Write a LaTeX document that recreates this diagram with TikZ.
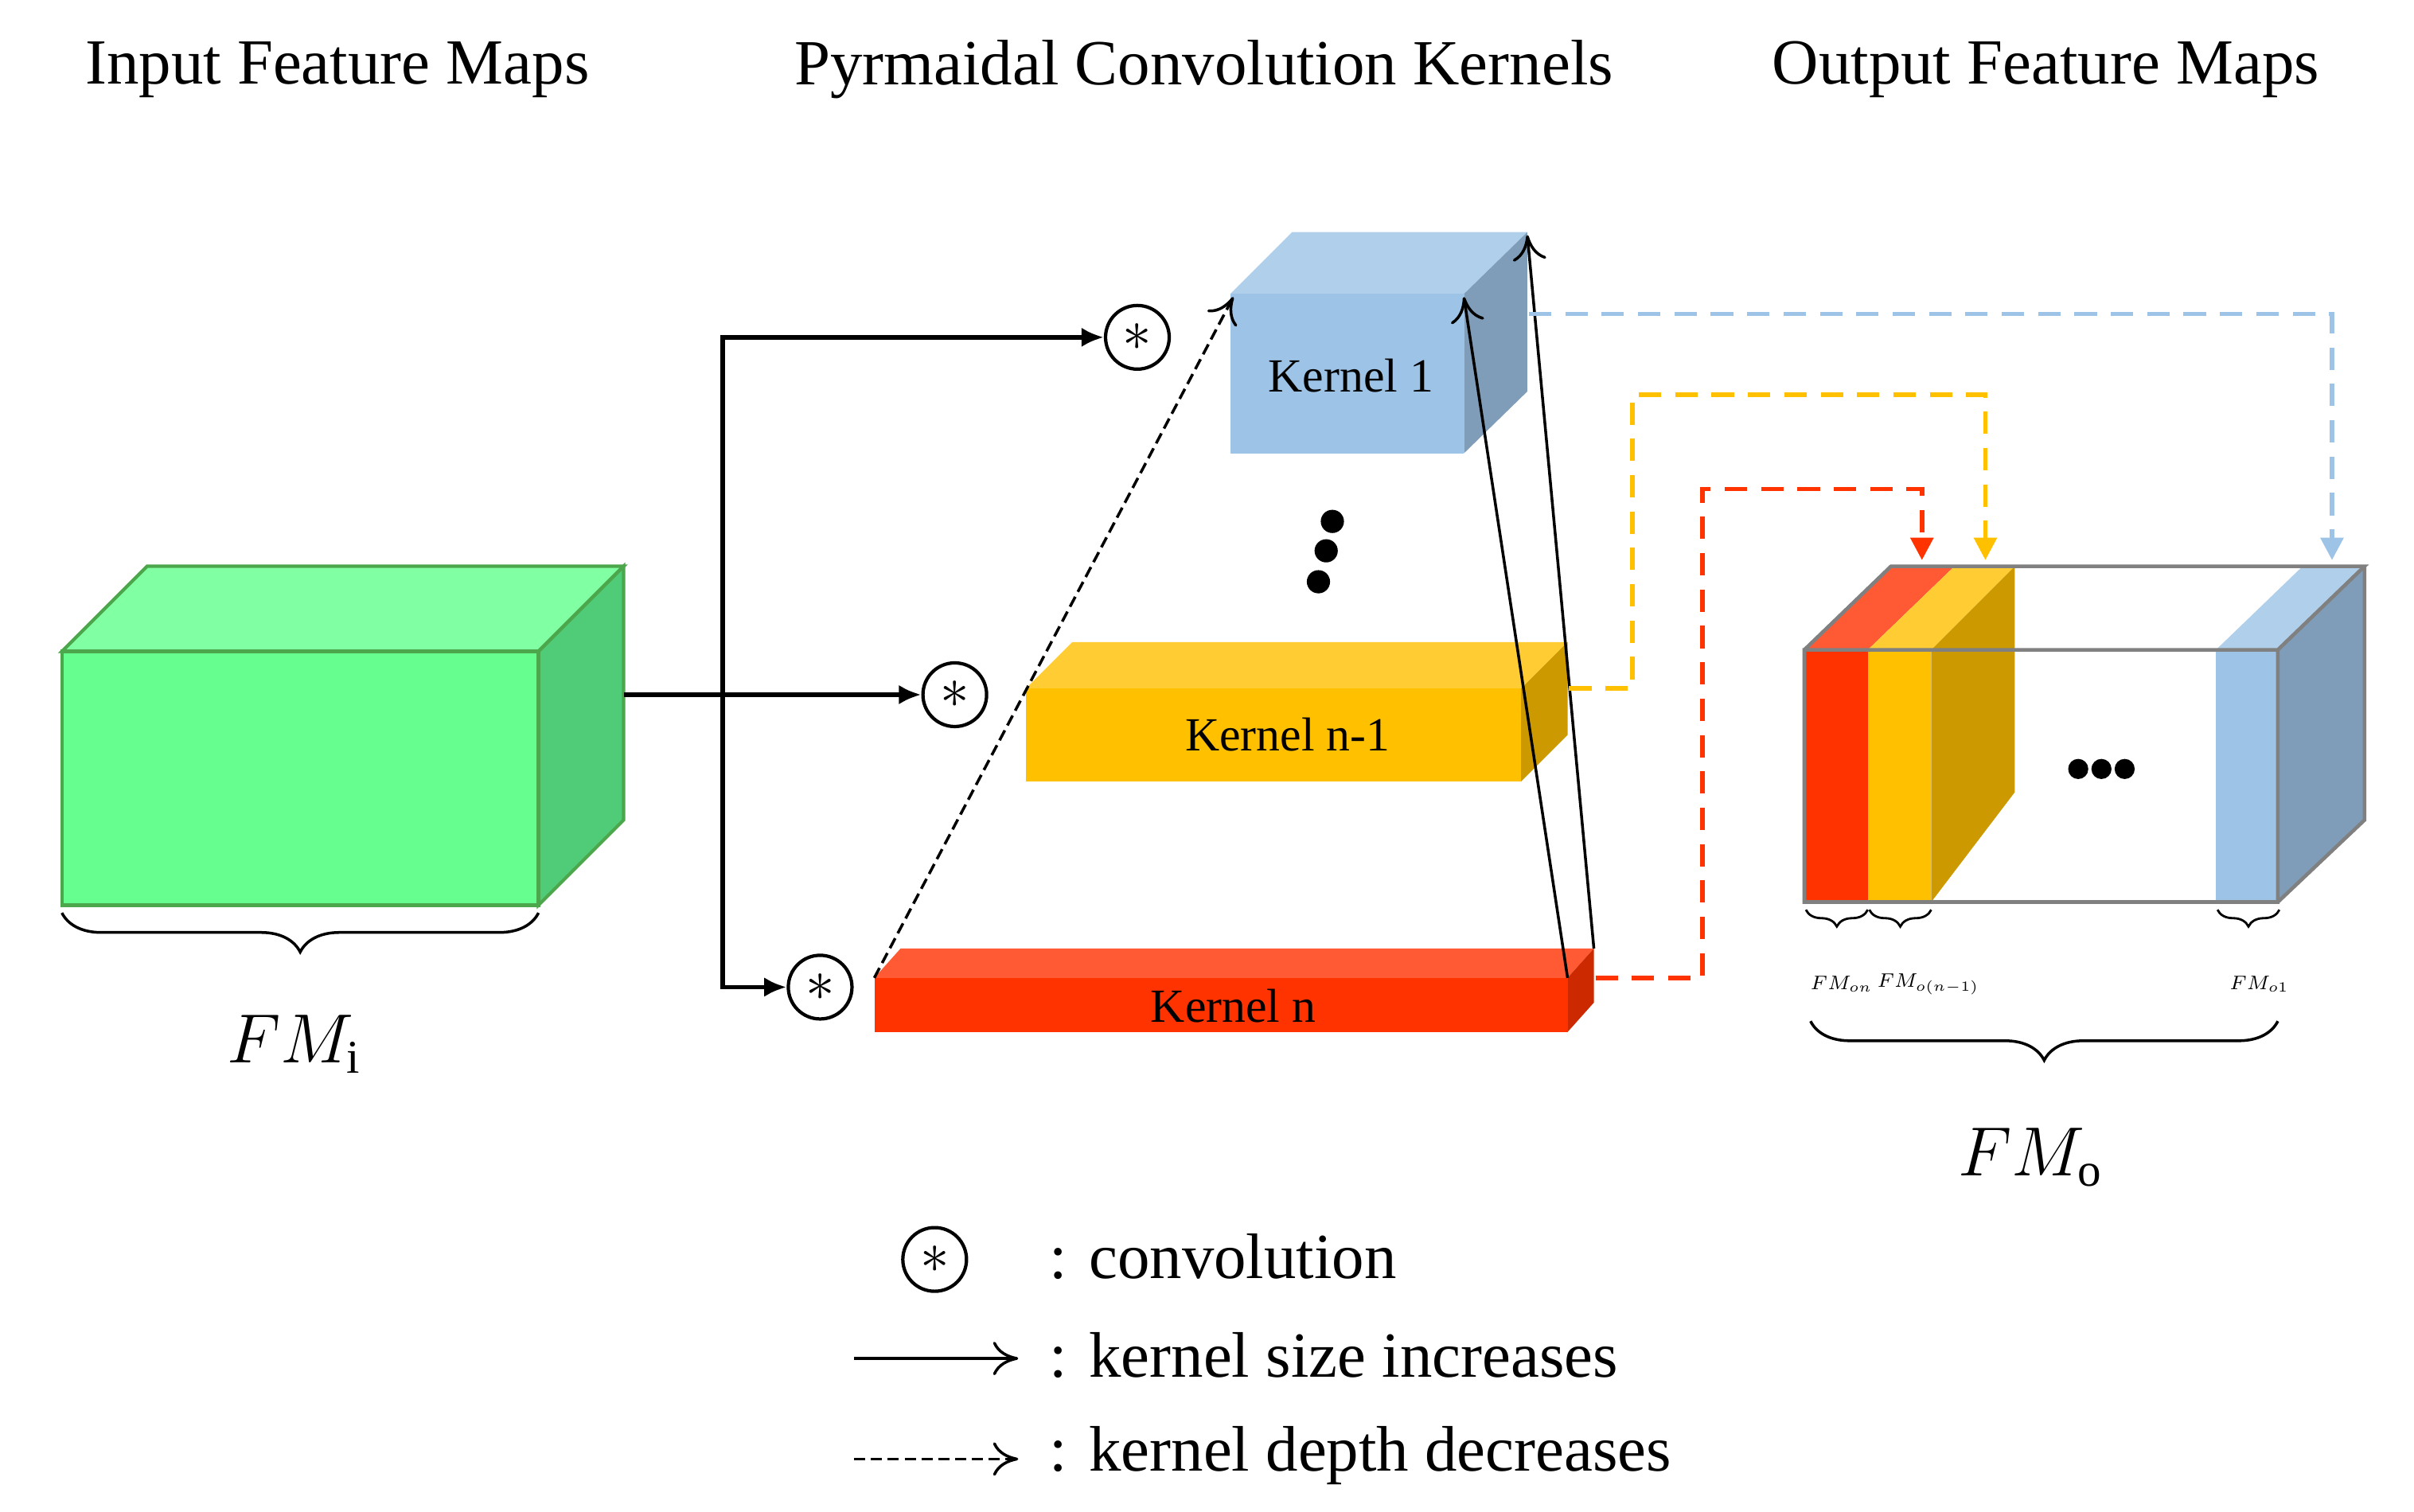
\documentclass[tikz,border=0pt]{standalone}
\usepackage{fontspec}
\setmainfont{Liberation Serif}
\usetikzlibrary{arrows.meta,decorations.pathreplacing}
\definecolor{gF}{HTML}{66FF8F}\definecolor{gT}{HTML}{80FFA3}\definecolor{gS}{HTML}{50CC78}\definecolor{gB}{HTML}{4CA64C}
\definecolor{bF}{HTML}{9DC3E6}\definecolor{bT}{HTML}{B0CFEA}\definecolor{bS}{HTML}{7F9DB9}
\definecolor{yF}{HTML}{FFC000}\definecolor{yT}{HTML}{FFCC33}\definecolor{yS}{HTML}{CC9A00}
\definecolor{rF}{HTML}{FF3300}\definecolor{rT}{HTML}{FF5A33}\definecolor{rS}{HTML}{CC2900}
\begin{document}
\begin{tikzpicture}[x=0.01944cm,y=-0.01944cm,
  title/.style={font=\fontsize{23}{26}\selectfont},
  klabel/.style={font=\fontsize{17}{20}\selectfont},
  conv/.style={circle,draw,line width=1.2pt,minimum size=0.8cm,inner sep=0pt,font=\fontsize{20}{20}\selectfont,fill=white},
  flow/.style={line width=1.6pt,-{Latex[length=8pt,width=7pt]}},
  size/.style={line width=1pt,-{To[length=9pt,width=12pt]}},
  depth/.style={line width=1pt,dash pattern=on 4pt off 2pt,-{To[length=9pt,width=12pt]}},
  cdash/.style={line width=1.6pt,dash pattern=on 8pt off 5pt,-{Triangle[length=8pt,width=8pt]}},
  obr/.style={decorate,decoration={brace,amplitude=6pt},line width=0.8pt},
  bigbr/.style={decorate,decoration={brace,amplitude=14pt},line width=1pt}]
\useasboundingbox (0,0) rectangle (1560,977);
% titles
\node[title] (t1) at (218,45) {Input Feature Maps};
\node[title] (t2) at (778,45) {Pyrmaidal Convolution Kernels};
\node[title] (t3) at (1322,45) {Output Feature Maps};
% green box
\draw[gB,line width=1.2pt,fill=gT] (40,421)--(95,366)--(403,366)--(348,421)--cycle;
\draw[gB,line width=1.2pt,fill=gS] (348,421)--(403,366)--(403,530)--(348,585)--cycle;
\draw[gB,line width=1.2pt,fill=gF] (40,421) rectangle (348,585);
\coordinate (gout) at (403,449);
\draw[bigbr] (348,590)--(40,590);
\node[font=\fontsize{24}{24}\selectfont] (fmi) at (190,675) {$FM_{\mathrm{i}}$};
% kernels
\fill[bT] (795,190)--(835,150)--(987,150)--(946,190)--cycle;
\fill[bS] (946,190)--(987,150)--(987,253)--(946,293)--cycle;
\fill[bF] (795,190) rectangle (946,293);
\node[klabel] (k1) at (873,243) {Kernel 1};
\fill[yT] (663,445)--(693,415)--(1013,415)--(983,445)--cycle;
\fill[yS] (983,445)--(1013,415)--(1013,475)--(983,505)--cycle;
\fill[yF] (663,445) rectangle (983,505);
\node[klabel] (k2) at (832,475) {Kernel n-1};
\fill[rT] (565,632)--(582,613)--(1030,613)--(1013,632)--cycle;
\fill[rS] (1013,632)--(1030,613)--(1030,648)--(1013,667)--cycle;
\fill[rF] (565,632) rectangle (1013,667);
\node[klabel] (k3) at (797,650) {Kernel n};
\foreach \p in {(861,337),(857,356),(852,376)} \fill \p circle (7.5);
% convolution circles and flow
\node[conv] (c1) at (735,218) {$*$};
\node[conv] (c2) at (617,449) {$*$};
\node[conv] (c3) at (530,638) {$*$};
\coordinate (br) at (467,449);
\draw[flow] (gout)--(c2);
\draw[flow] (br)|-(c1);
\draw[flow] (br)|-(c3);
% kernel arrows
\coordinate (kA) at (565,632); \coordinate (kB) at (797,192);
\coordinate (kC) at (1013,632); \coordinate (kD) at (946,192);
\coordinate (kE) at (1030,613); \coordinate (kF) at (987,152);
\draw[depth] (kA)--(kB);
\draw[size] (kC)--(kD);
\draw[size] (kE)--(kF);
% colored dashed connectors
\coordinate (b0) at (988,203); \coordinate (b1) at (1507,362);
\draw[cdash,bF] (b0)-|(b1);
\coordinate (y0) at (1014,445); \coordinate (y1) at (1283,362);
\draw[cdash,yF] (y0)--(1055,445)--(1055,255)-|(y1);
\coordinate (r0) at (1031,632); \coordinate (r1) at (1242,362);
\draw[cdash,rF] (r0)--(1100,632)--(1100,316)-|(r1);
% output box
\fill[rT] (1166,420)--(1207,420)--(1263,366)--(1222,366)--cycle;
\fill[yT] (1207,420)--(1248,420)--(1302,366)--(1263,366)--cycle;
\fill[yS] (1248,420)--(1302,366)--(1302,512)--(1248,583)--cycle;
\fill[rF] (1166,420) rectangle (1207,583);
\fill[yF] (1207,420) rectangle (1248,583);
\fill[bT] (1432,420)--(1472,420)--(1528,366)--(1488,366)--cycle;
\fill[bS] (1472,420)--(1528,366)--(1528,530)--(1472,583)--cycle;
\fill[bF] (1432,420) rectangle (1472,583);
\draw[gray,line width=1.3pt] (1166,420) rectangle (1472,583)
  (1166,420)--(1222,366)--(1528,366)--(1472,420) (1528,366)--(1528,530)--(1472,583);
\foreach \x in {1343,1358,1373} \fill (\x,497) circle (6.5);
\draw[obr] (1207,588)--(1167,588);
\draw[obr] (1248,588)--(1208,588);
\draw[obr] (1473,588)--(1433,588);
\node[font=\fontsize{7}{7}\selectfont] (lon) at (1190,636) {$FM_{on}$};
\node[font=\fontsize{7}{7}\selectfont] (lon1) at (1246,636) {$FM_{o(n-1)}$};
\node[font=\fontsize{7}{7}\selectfont] (lo1) at (1460,636) {$FM_{o1}$};
\draw[bigbr] (1472,660)--(1170,660);
\node[font=\fontsize{24}{24}\selectfont] (fmo) at (1312,748) {$FM_{\mathrm{o}}$};
% legend
\node[conv] (lc) at (604,814) {$*$};
\node[title,anchor=west] (l1) at (672,812) {: convolution};
\coordinate (la0) at (552,878); \coordinate (la1) at (658,878);
\draw[size] (la0)--(la1);
\node[title,anchor=west] (l2) at (672,876) {: kernel size increases};
\coordinate (lb0) at (552,943); \coordinate (lb1) at (658,943);
\draw[depth] (lb0)--(lb1);
\node[title,anchor=west] (l3) at (672,941) {: kernel depth decreases};
\end{tikzpicture}
\end{document}
